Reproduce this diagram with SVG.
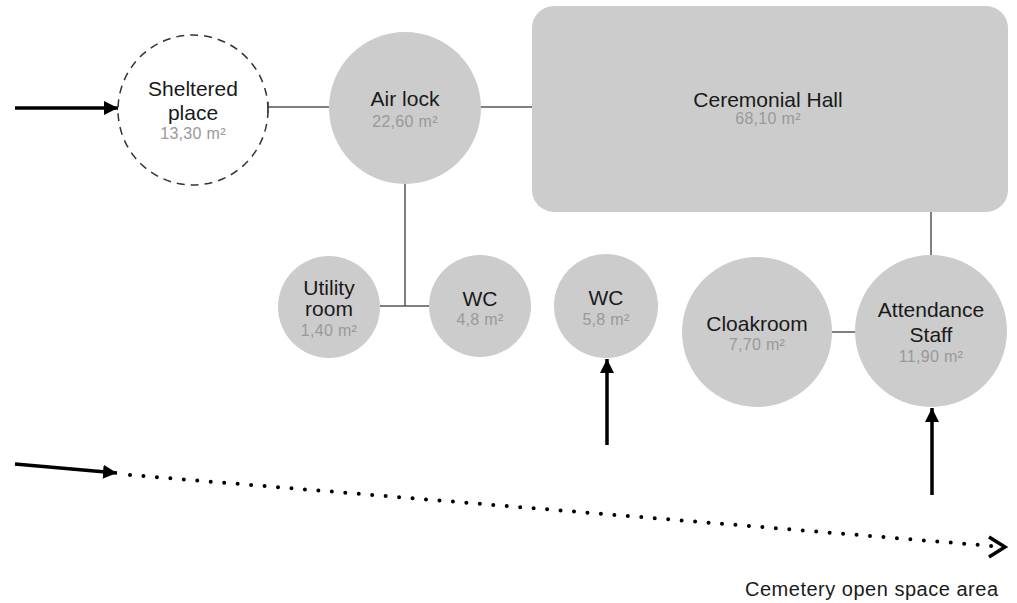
<svg xmlns="http://www.w3.org/2000/svg" width="1017" height="603" viewBox="0 0 1017 603">
<style>
.room{fill:#cccccc}
.lbl{font-family:"Liberation Sans",Arial,sans-serif;font-size:21px;fill:#1a1a1a;text-anchor:middle}
.area{font-family:"Liberation Sans",Arial,sans-serif;font-size:16px;fill:#999999;text-anchor:middle;letter-spacing:0.3px}
.conn{stroke:#555555;stroke-width:1.5;fill:none}
.flow{stroke:#000000;stroke-width:3.5;fill:none}
</style>
<defs>
<marker id="ah" viewBox="0 0 10 10" refX="10" refY="5" markerWidth="4" markerHeight="4" markerUnits="strokeWidth" orient="auto">
<path d="M0,0 L10,5 L0,10 z" fill="#000"/>
</marker>
</defs>
<rect width="1017" height="603" fill="#ffffff"/>
<g id="connectors">
<line class="conn" x1="268" y1="107" x2="329" y2="107"/>
<line class="conn" x1="268" y1="102" x2="268" y2="113"/>
<line class="conn" x1="480" y1="107" x2="532" y2="107"/>
<line class="conn" x1="405" y1="184" x2="405" y2="306"/>
<line class="conn" x1="380" y1="306" x2="430" y2="306"/>
<line class="conn" x1="931" y1="212" x2="931" y2="256"/>
<line class="conn" x1="832" y1="332" x2="856" y2="332"/>
<line class="flow" x1="15" y1="108" x2="118" y2="108" marker-end="url(#ah)"/>
<line class="flow" x1="15" y1="464" x2="117" y2="473" marker-end="url(#ah)"/>
<line class="flow" x1="607" y1="445" x2="607" y2="359" marker-end="url(#ah)"/>
<line class="flow" x1="932" y1="495" x2="932" y2="408" marker-end="url(#ah)"/>
<line x1="130" y1="475" x2="992" y2="546" stroke="#000" stroke-width="4" stroke-linecap="round" stroke-dasharray="0 13.5"/>
<polyline points="989,537 1005,547 989,557" fill="none" stroke="#000" stroke-width="3.5"/>
</g>
<g id="sheltered">
<circle cx="193" cy="110" r="75" fill="none" stroke="#333333" stroke-width="1.5" stroke-dasharray="8 6"/>
<text class="lbl" x="193" y="96">Sheltered</text>
<text class="lbl" x="193" y="120">place</text>
<text class="area" x="193" y="139">13,30 m²</text>
</g>
<g id="airlock">
<circle class="room" cx="405" cy="108" r="76"/>
<text class="lbl" x="405" y="106">Air lock</text>
<text class="area" x="405" y="127">22,60 m²</text>
</g>
<g id="hall">
<rect class="room" x="532" y="6" width="476" height="206" rx="22"/>
<text class="lbl" x="768" y="107">Ceremonial Hall</text>
<text class="area" x="768" y="124">68,10 m²</text>
</g>
<g id="utility">
<circle class="room" cx="329" cy="307" r="51"/>
<text class="lbl" x="329" y="295">Utility</text>
<text class="lbl" x="329" y="316">room</text>
<text class="area" x="329" y="336">1,40 m²</text>
</g>
<g id="wc1">
<circle class="room" cx="480" cy="306" r="51"/>
<text class="lbl" x="480" y="306">WC</text>
<text class="area" x="480" y="325">4,8 m²</text>
</g>
<g id="wc2">
<circle class="room" cx="606" cy="306" r="52"/>
<text class="lbl" x="606" y="305">WC</text>
<text class="area" x="606" y="325">5,8 m²</text>
</g>
<g id="cloakroom">
<circle class="room" cx="757" cy="332" r="75"/>
<text class="lbl" x="757" y="331">Cloakroom</text>
<text class="area" x="757" y="350">7,70 m²</text>
</g>
<g id="attendance">
<circle class="room" cx="931" cy="331" r="76"/>
<text class="lbl" x="931" y="317">Attendance</text>
<text class="lbl" x="931" y="342">Staff</text>
<text class="area" x="931" y="362">11,90 m²</text>
</g>
<g id="cemetery">
<text x="745" y="596" font-family="Liberation Sans, Arial, sans-serif" font-size="20" fill="#1a1a1a" textLength="253">Cemetery open space area</text>
</g>
</svg>
